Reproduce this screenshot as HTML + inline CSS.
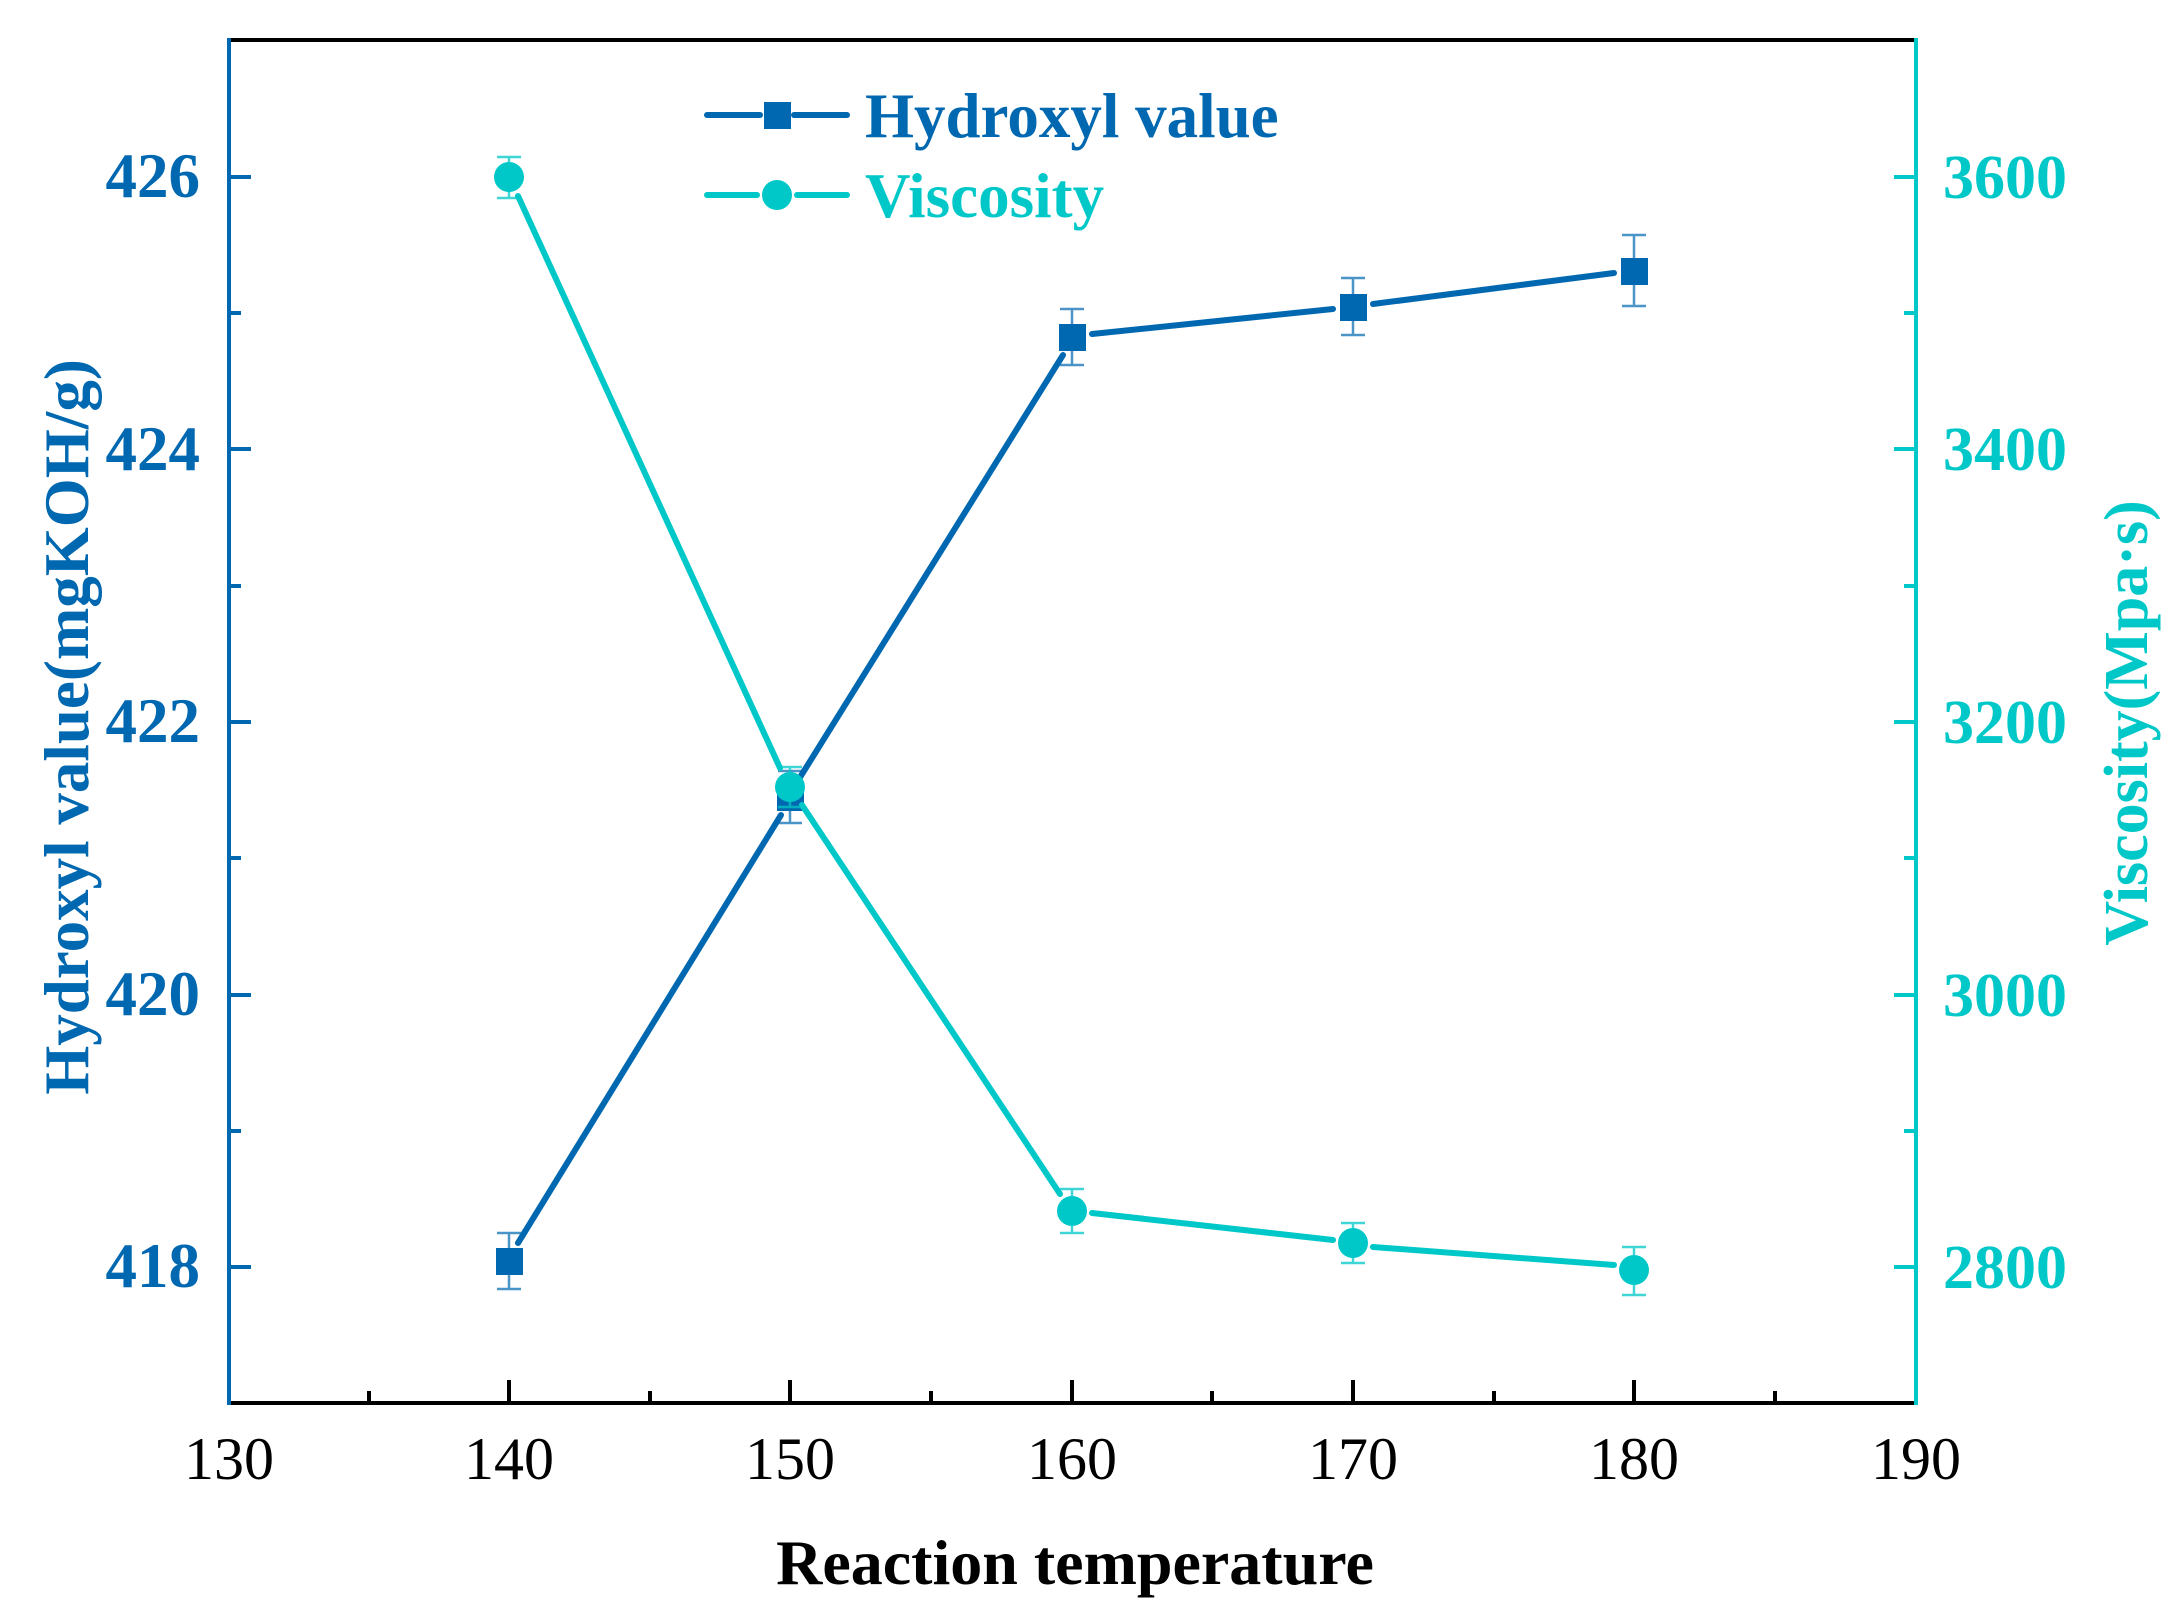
<!DOCTYPE html>
<html><head><meta charset="utf-8"><style>
html,body{margin:0;padding:0;background:#fff;}
svg{display:block;}
text{font-family:"Liberation Serif","Times New Roman",serif;}
</style></head><body>
<svg width="2180" height="1620" viewBox="0 0 2180 1620" xmlns="http://www.w3.org/2000/svg">
<rect width="2180" height="1620" fill="#fff"/>
<line x1="227" y1="40" x2="1918" y2="40" stroke="#000" stroke-width="4"/>
<line x1="227" y1="1403" x2="1918" y2="1403" stroke="#000" stroke-width="4"/>
<line x1="229" y1="38" x2="229" y2="1405" stroke="#0068B0" stroke-width="4"/>
<line x1="1916" y1="38" x2="1916" y2="1405" stroke="#00C8C8" stroke-width="4"/>
<g stroke="#000" stroke-width="4">
<line x1="509" y1="1403" x2="509" y2="1380"/><line x1="790" y1="1403" x2="790" y2="1380"/>
<line x1="1072" y1="1403" x2="1072" y2="1380"/><line x1="1353" y1="1403" x2="1353" y2="1380"/>
<line x1="1634" y1="1403" x2="1634" y2="1380"/>
<line x1="369" y1="1403" x2="369" y2="1391"/><line x1="650" y1="1403" x2="650" y2="1391"/>
<line x1="931" y1="1403" x2="931" y2="1391"/><line x1="1212" y1="1403" x2="1212" y2="1391"/>
<line x1="1494" y1="1403" x2="1494" y2="1391"/><line x1="1775" y1="1403" x2="1775" y2="1391"/>
</g>
<g font-size="60" fill="#000" text-anchor="middle">
<text x="229" y="1479">130</text><text x="509" y="1479">140</text><text x="790" y="1479">150</text>
<text x="1072" y="1479">160</text><text x="1353" y="1479">170</text><text x="1634" y="1479">180</text>
<text x="1916" y="1479">190</text>
</g>
<text x="1075" y="1584" font-size="64" font-weight="bold" text-anchor="middle" fill="#000">Reaction temperature</text>
<g stroke="#0068B0" stroke-width="4">
<line x1="229" y1="177" x2="251" y2="177"/><line x1="229" y1="449" x2="251" y2="449"/>
<line x1="229" y1="722" x2="251" y2="722"/><line x1="229" y1="995" x2="251" y2="995"/>
<line x1="229" y1="1267" x2="251" y2="1267"/>
<line x1="229" y1="313" x2="241" y2="313"/><line x1="229" y1="586" x2="241" y2="586"/>
<line x1="229" y1="858" x2="241" y2="858"/><line x1="229" y1="1131" x2="241" y2="1131"/>
</g>
<g font-size="63" font-weight="bold" fill="#0068B0" text-anchor="end">
<text x="200" y="197">426</text><text x="200" y="470">424</text><text x="200" y="742">422</text>
<text x="200" y="1015">420</text><text x="200" y="1287">418</text>
</g>
<text transform="translate(88,727) rotate(-90)" font-size="63" font-weight="bold" fill="#0068B0" text-anchor="middle">Hydroxyl value(mgKOH/g)</text>
<g stroke="#00C8C8" stroke-width="4">
<line x1="1916" y1="177" x2="1894" y2="177"/><line x1="1916" y1="449" x2="1894" y2="449"/>
<line x1="1916" y1="722" x2="1894" y2="722"/><line x1="1916" y1="995" x2="1894" y2="995"/>
<line x1="1916" y1="1267" x2="1894" y2="1267"/>
<line x1="1916" y1="313" x2="1904" y2="313"/><line x1="1916" y1="586" x2="1904" y2="586"/>
<line x1="1916" y1="858" x2="1904" y2="858"/><line x1="1916" y1="1131" x2="1904" y2="1131"/>
</g>
<g font-size="62" font-weight="bold" fill="#00C8C8" text-anchor="start">
<text x="1943" y="198">3600</text><text x="1943" y="470">3400</text><text x="1943" y="743">3200</text>
<text x="1943" y="1016">3000</text><text x="1943" y="1288">2800</text>
</g>
<text transform="translate(2147,723) rotate(-90)" font-size="62" font-weight="bold" fill="#00C8C8" text-anchor="middle">Viscosity(Mpa·s)</text>
<g stroke="#0068B0" stroke-width="6" stroke-linecap="round">
<line x1="518" y1="1243" x2="781" y2="815"/>
<line x1="799" y1="779" x2="1063" y2="355"/>
<line x1="1092" y1="334" x2="1333" y2="309"/>
<line x1="1373" y1="304" x2="1614" y2="273"/>
</g>
<g stroke="#0068B0" stroke-width="2.5" opacity="0.7">
<line x1="509" y1="1233" x2="509" y2="1289"/><line x1="497" y1="1233" x2="521" y2="1233"/><line x1="497" y1="1289" x2="521" y2="1289"/>
<line x1="790" y1="771" x2="790" y2="823"/><line x1="778" y1="771" x2="802" y2="771"/><line x1="778" y1="823" x2="802" y2="823"/>
<line x1="1072" y1="309" x2="1072" y2="365"/><line x1="1060" y1="309" x2="1084" y2="309"/><line x1="1060" y1="365" x2="1084" y2="365"/>
<line x1="1353" y1="278" x2="1353" y2="335"/><line x1="1341" y1="278" x2="1365" y2="278"/><line x1="1341" y1="335" x2="1365" y2="335"/>
<line x1="1634" y1="235" x2="1634" y2="306"/><line x1="1622" y1="235" x2="1646" y2="235"/><line x1="1622" y1="306" x2="1646" y2="306"/>
</g>
<g fill="#0068B0">
<rect x="496" y="1248" width="27" height="27"/>
<rect x="777" y="784" width="27" height="27"/>
<rect x="1059" y="324" width="27" height="27"/>
<rect x="1340" y="294" width="27" height="27"/>
<rect x="1621" y="258" width="27" height="27"/>
</g>
<g stroke="#00C8C8" stroke-width="6" stroke-linecap="round">
<line x1="518" y1="196" x2="780" y2="768"/>
<line x1="802" y1="805" x2="1060" y2="1194"/>
<line x1="1092" y1="1213" x2="1333" y2="1240"/>
<line x1="1373" y1="1247" x2="1614" y2="1265"/>
</g>
<g stroke="#00C8C8" stroke-width="2.5" opacity="0.75">
<line x1="509" y1="157" x2="509" y2="198"/><line x1="497" y1="157" x2="521" y2="157"/><line x1="497" y1="198" x2="521" y2="198"/>
<line x1="790" y1="767" x2="790" y2="807"/><line x1="778" y1="767" x2="802" y2="767"/><line x1="778" y1="807" x2="802" y2="807"/>
<line x1="1072" y1="1189" x2="1072" y2="1233"/><line x1="1060" y1="1189" x2="1084" y2="1189"/><line x1="1060" y1="1233" x2="1084" y2="1233"/>
<line x1="1353" y1="1223" x2="1353" y2="1263"/><line x1="1341" y1="1223" x2="1365" y2="1223"/><line x1="1341" y1="1263" x2="1365" y2="1263"/>
<line x1="1634" y1="1247" x2="1634" y2="1295"/><line x1="1622" y1="1247" x2="1646" y2="1247"/><line x1="1622" y1="1295" x2="1646" y2="1295"/>
</g>
<g fill="#00C8C8">
<circle cx="509" cy="177" r="15"/>
<circle cx="790" cy="787" r="15"/>
<circle cx="1072" cy="1211" r="15"/>
<circle cx="1353" cy="1243" r="15"/>
<circle cx="1634" cy="1270" r="15"/>
</g>
<g stroke-width="6" stroke-linecap="round">
<line x1="707" y1="115" x2="760" y2="115" stroke="#0068B0"/>
<line x1="794" y1="115" x2="847" y2="115" stroke="#0068B0"/>
<line x1="707" y1="195" x2="757" y2="195" stroke="#00C8C8"/>
<line x1="797" y1="195" x2="847" y2="195" stroke="#00C8C8"/>
</g>
<rect x="764" y="102" width="27" height="27" fill="#0068B0"/>
<circle cx="777" cy="195" r="15" fill="#00C8C8"/>
<text x="865" y="137" font-size="63" font-weight="bold" fill="#0068B0">Hydroxyl value</text>
<text x="865" y="217" font-size="63" font-weight="bold" fill="#00C8C8">Viscosity</text>
</svg>
</body></html>
